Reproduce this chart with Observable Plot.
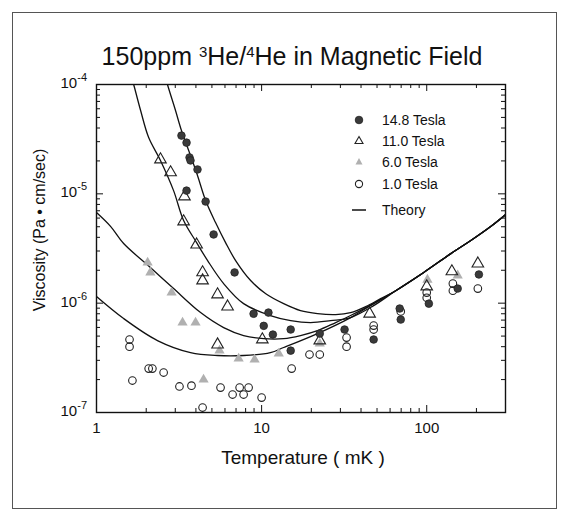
<!DOCTYPE html>
<html>
<head>
<meta charset="utf-8">
<script src="https://cdn.jsdelivr.net/npm/d3@7"></script>
<script src="https://cdn.jsdelivr.net/npm/@observablehq/plot@0.6"></script>
<style>
  html, body { margin: 0; padding: 0; background: #fff; }
  #wrap { position: relative; width: 570px; height: 522px; font-family: "Liberation Sans", Arial, sans-serif; color: #111; overflow: hidden; }
  #border { position: absolute; left: 12px; top: 12px; width: 545px; height: 497px; border: 1px solid #555; box-sizing: border-box; }
  #chart { position: absolute; left: 0; top: 0; }
  .ov { position: absolute; white-space: nowrap; }
  #title { left: 0; width: 584px; text-align: center; top: 44px; font-size: 25px; line-height: 25px; }
  #title sup { font-size: 15px; position: relative; top: -5px; vertical-align: top; }
  #ylab { left: 40px; top: 230px; font-size: 16px; transform: translate(-50%, -50%) rotate(-90deg); }
  #xlab { left: 303px; top: 458px; font-size: 19px; transform: translate(-50%, -50%); }
  .ytl { font-size: 15px; line-height: 15px; text-align: right; }
  .ytl sup { font-size: 11px; position: relative; top: -5px; vertical-align: top; }
  .leg { font-size: 14px; line-height: 14px; display: flex; align-items: center; }
  .leg svg { margin-right: 16px; }
</style>
</head>
<body>
<div id="wrap">
  <div id="border"></div>
  <div id="chart"></div>
  <div class="ov" id="title">150ppm <sup>3</sup>He/<sup>4</sup>He in Magnetic Field</div>
  <div class="ov" id="ylab">Viscosity (Pa • cm/sec)</div>
  <div class="ov" id="xlab">Temperature ( mK )</div>
</div>
<script>
// ---- data (temperature in mK, viscosity in Pa·cm/sec) ----
const T148 = [3.27, 3.51, 3.66, 3.71, 4.09, 4.58, 5.12, 3.51, 6.86, 8.94, 11.0, 10.3, 11.7, 15.0, 15.0, 22.5, 31.8, 47.7, 68.6, 69.6, 103, 154, 207];
const V148 = [3.41e-5, 2.94e-5, 2.15e-5, 2.02e-5, 1.67e-5, 8.5e-6, 4.25e-6, 1.07e-5, 1.91e-6, 8.0e-7, 8.2e-7, 6.2e-7, 5.16e-7, 5.74e-7, 3.68e-7, 5.27e-7, 5.74e-7, 4.65e-7, 8.93e-7, 7.08e-7, 9.9e-7, 1.36e-6, 1.83e-6];

const T110 = [2.44, 2.81, 3.41, 3.37, 4.04, 4.39, 4.39, 5.41, 6.22, 5.41, 10.1, 22.5, 45.1, 100, 142, 204];
const V110 = [2.06e-5, 1.57e-5, 9.45e-6, 5.58e-6, 3.43e-6, 1.91e-6, 1.61e-6, 1.20e-6, 9.3e-7, 4.18e-7, 4.65e-7, 4.55e-7, 8.0e-7, 1.42e-6, 1.95e-6, 2.30e-6];

const T60 = [2.04, 2.12, 2.85, 3.32, 3.98, 4.45, 5.56, 7.26, 9.07, 12.7, 22.5, 101, 154];
const V60 = [2.35e-6, 1.91e-6, 1.25e-6, 6.65e-7, 6.65e-7, 2.0e-7, 3.68e-7, 3.11e-7, 3.05e-7, 3.46e-7, 4.27e-7, 1.64e-6, 1.79e-6];

const T10 = [1.585, 1.585, 2.07, 2.18, 2.55, 1.65, 3.18, 3.76, 4.39, 5.64, 6.67, 7.36, 8.34, 7.78, 10.0, 15.2, 19.5, 22.5, 32.7, 32.7, 47.7, 47.7, 69.6, 100, 100, 144, 144, 204];
const V10 = [4.65e-7, 4.0e-7, 2.52e-7, 2.52e-7, 2.32e-7, 1.96e-7, 1.73e-7, 1.76e-7, 1.11e-7, 1.69e-7, 1.46e-7, 1.69e-7, 1.69e-7, 1.46e-7, 1.37e-7, 2.52e-7, 3.39e-7, 3.39e-7, 4.84e-7, 4.0e-7, 6.24e-7, 5.74e-7, 8.4e-7, 1.12e-6, 1.25e-6, 1.51e-6, 1.30e-6, 1.36e-6];

// theory curves (common high-temperature tail)
const tailT = [64.9, 95.9, 140, 185, 244, 301];
const tailV = [1.30e-6, 1.91e-6, 2.84e-6, 3.74e-6, 5.02e-6, 6.47e-6];
const thT148 = [2.55, 2.69, 3.01, 3.27, 3.71, 4.09, 4.58, 5.26, 6.05, 6.96, 8.58, 10.6, 13.6, 17.2, 21.8, 28.1, 34.6, 42.7, 52.6];
const thV148 = [1.34e-4, 1e-4, 5.78e-5, 3.79e-5, 2.24e-5, 1.47e-5, 8.69e-6, 5.46e-6, 3.58e-6, 2.45e-6, 1.61e-6, 1.22e-6, 9.9e-7, 8.55e-7, 8.03e-7, 7.87e-7, 8.2e-7, 9.3e-7, 1.10e-6];
const thT110 = [1.63, 1.68, 1.85, 2.07, 2.44, 2.93, 3.37, 4.04, 4.71, 5.89, 7.78, 11.3, 15.0, 19.8, 26.2, 34.6, 47.7];
const thV110 = [1.18e-4, 1e-4, 5.78e-5, 3.27e-5, 2.02e-5, 1.07e-5, 5.70e-6, 3.58e-6, 2.45e-6, 1.51e-6, 9.9e-7, 7.71e-7, 6.93e-7, 6.65e-7, 6.93e-7, 7.38e-7, 9.5e-7];
const thT60 = [1.0, 1.22, 1.46, 2.12, 2.93, 4.27, 5.89, 7.78, 10.3, 13.6, 17.2, 21.8, 28.1, 34.6, 47.7];
const thV60 = [6.75e-6, 5.02e-6, 3.51e-6, 2.12e-6, 1.36e-6, 8.2e-7, 5.98e-7, 5.06e-7, 4.74e-7, 4.74e-7, 5.06e-7, 5.61e-7, 6.65e-7, 7.71e-7, 9.9e-7];
const thT10 = [1.0, 1.46, 2.34, 3.71, 5.41, 7.78, 11.3, 13.6, 21.8, 34.6, 47.7];
const thV10 = [1.15e-6, 7.23e-7, 4.55e-7, 3.53e-7, 3.32e-7, 3.32e-7, 3.53e-7, 3.93e-7, 5.27e-7, 7.38e-7, 9.9e-7];

const seriesNames = ["14.8 Tesla", "11.0 Tesla", "6.0 Tesla", "1.0 Tesla", "Theory"];
const xMajor = [1, 10, 100];
const xMinor = [2, 3, 4, 5, 6, 7, 8, 9, 20, 30, 40, 50, 60, 70, 80, 90, 200];
const yMajor = [1e-7, 1e-6, 1e-5, 1e-4];
const yMinor = [1e-7, 1e-6, 1e-5].flatMap(d => [2, 3, 4, 5, 6, 7, 8, 9].map(k => k * d));
const yExp = [-7, -6, -5, -4];

// ---- build ----
const zip = (T, V) => T.map((t, i) => ({T: t, V: V[i]}));
const d148 = zip(T148, V148), d110 = zip(T110, V110), d60 = zip(T60, V60), d10 = zip(T10, V10);
const curves = [
  zip(thT148.concat(tailT), thV148.concat(tailV)),
  zip(thT110.concat(tailT), thV110.concat(tailV)),
  zip(thT60.concat(tailT), thV60.concat(tailV)),
  zip(thT10.concat(tailT), thV10.concat(tailV))
];

const W = 570, H = 522, mL = 96, mR = 65, mT = 84, mB = 110;
const pw = W - mL - mR, ph = H - mT - mB;
const majLen = 7, minLen = 4;

const plot = Plot.plot({
  width: W, height: H,
  marginLeft: mL, marginRight: mR, marginTop: mT, marginBottom: mB,
  x: {type: "log", domain: [1, 300]},
  y: {type: "log", domain: [1e-7, 1e-4], axis: null},
  style: {fontFamily: "'Liberation Sans', Arial, sans-serif", background: "transparent", color: "#111"},
  marks: [
    // inward ticks on all four sides
    Plot.tickX(xMajor, {x: d => d, insetTop: ph - majLen, stroke: "#111"}),
    Plot.tickX(xMinor, {x: d => d, insetTop: ph - minLen, stroke: "#111"}),
    Plot.tickX(xMajor, {x: d => d, insetBottom: ph - majLen, stroke: "#111"}),
    Plot.tickX(xMinor, {x: d => d, insetBottom: ph - minLen, stroke: "#111"}),
    Plot.tickY(yMajor, {y: d => d, insetRight: pw - majLen, stroke: "#111"}),
    Plot.tickY(yMinor, {y: d => d, insetRight: pw - minLen, stroke: "#111"}),
    Plot.tickY(yMajor, {y: d => d, insetLeft: pw - majLen, stroke: "#111"}),
    Plot.tickY(yMinor, {y: d => d, insetLeft: pw - minLen, stroke: "#111"}),
    Plot.axisX(xMajor, {tickSize: 0, tickPadding: 10, fontSize: 15, tickFormat: d => String(d), label: null}),
    // theory
    ...curves.map(c => Plot.line(c, {x: "T", y: "V", stroke: "#111", strokeWidth: 1.3, curve: "catmull-rom", clip: true})),
    // data
    Plot.dot(d10, {x: "T", y: "V", r: 3.8, fill: "none", stroke: "#222", strokeWidth: 1.1}),
    Plot.dot(d60, {x: "T", y: "V", symbol: "triangle", r: 3.8, fill: "#b0b0b0", stroke: "none"}),
    Plot.dot(d110, {x: "T", y: "V", symbol: "triangle", r: 4.3, fill: "none", stroke: "#222", strokeWidth: 1.1}),
    Plot.dot(d148, {x: "T", y: "V", r: 3.8, fill: "#3a3a3a", stroke: "#222", strokeWidth: 0.8}),
    Plot.frame({stroke: "#111", strokeWidth: 1.4})
  ]
});
document.getElementById("chart").appendChild(plot);

const wrap = document.getElementById("wrap");
const sy = plot.scale("y");
yMajor.forEach((v, i) => {
  const el = document.createElement("div");
  el.className = "ov ytl";
  el.style.right = (W - 87) + "px";
  el.style.top = (sy.apply(v) - 9) + "px";
  el.innerHTML = `10<sup>${yExp[i]}</sup>`;
  wrap.appendChild(el);
});

// legend
const legRows = [120, 141, 162, 184, 210];
const legSym = [
  `<circle cx="7" cy="7" r="3.8" fill="#3a3a3a" stroke="#222" stroke-width="0.8"/>`,
  `<path d="M7,2.5 L11,9.5 L3,9.5 Z" fill="none" stroke="#222" stroke-width="1.1"/>`,
  `<path d="M7,3 L10.5,9.5 L3.5,9.5 Z" fill="#b0b0b0"/>`,
  `<circle cx="7" cy="7" r="3.6" fill="none" stroke="#222" stroke-width="1.1"/>`,
  `<line x1="0" y1="7" x2="14" y2="7" stroke="#111" stroke-width="1.5"/>`
];
seriesNames.forEach((name, i) => {
  const el = document.createElement("div");
  el.className = "ov leg";
  el.style.left = "352px";
  el.style.top = (legRows[i] - 7) + "px";
  el.innerHTML = `<svg width="14" height="14">${legSym[i]}</svg><span>${name}</span>`;
  wrap.appendChild(el);
});
</script>
</body>
</html>
